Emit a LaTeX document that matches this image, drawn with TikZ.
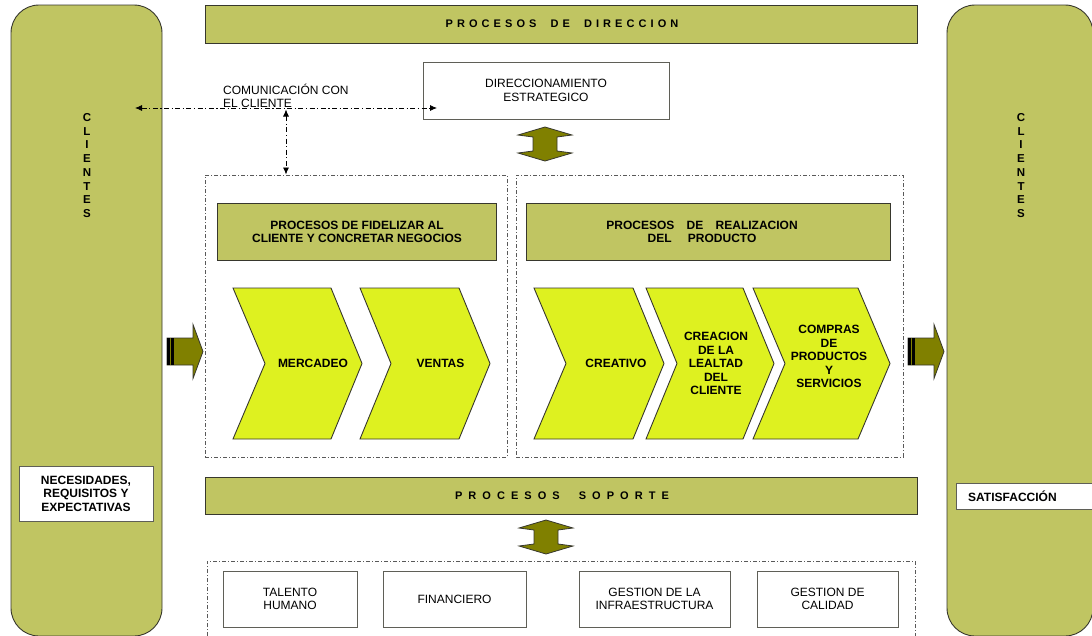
\documentclass[tikz,border=0pt]{standalone}
\usepackage{fontspec}
\setmainfont{Liberation Sans}
\newfontfamily\hdA[LetterSpace=37]{Liberation Sans}
\newfontfamily\hdB[LetterSpace=55]{Liberation Sans}
\usetikzlibrary{arrows.meta}
\definecolor{oliveL}{RGB}{192,197,98}
\definecolor{oliveD}{RGB}{128,128,0}
\definecolor{chev}{RGB}{222,241,32}
\definecolor{edge}{RGB}{55,55,45}
\tikzset{
  txt/.style={inner sep=0pt, align=center, font=\fontsize{12}{13.5}\selectfont},
  btxt/.style={inner sep=0pt, align=center, font=\bfseries\fontsize{12}{13.5}\selectfont},
  clibox/.style={draw=edge, line width=0.9pt, fill=oliveL, rounded corners=28pt, inner sep=0pt},
  bar/.style={draw=edge, line width=0.9pt, fill=oliveL, inner sep=0pt},
  wbox/.style={draw=edge!80, line width=0.9pt, fill=white, inner sep=0pt},
  cont/.style={draw=black!65, line width=0.8pt, dash pattern=on 4pt off 2pt on 1pt off 2pt, inner sep=0pt},
  comm/.style={draw=black, line width=0.8pt, dash pattern=on 5pt off 2.5pt on 1.2pt off 2.5pt, {Latex[length=7pt,width=6pt]}-{Latex[length=7pt,width=6pt]}},
  chevron/.style={draw=edge, line width=0.9pt, fill=chev},
  darrow/.style={draw=edge, line width=0.8pt, fill=oliveD},
  dbl/.pic={\draw[darrow] (0,0)--(27,8)--(12,10)--(12,24)--(27,26)--(0,34)--(-27,26)--(-12,24)--(-12,10)--(-27,8)--cycle;},
  barrow/.pic={\draw[darrow] (0,-13.5)--(26,-13.5)--(26,-27)--(36,0)--(26,27)--(26,13.5)--(0,13.5)--cycle;
               \fill[black] (0,-13.5) rectangle (2.8,13.5);
               \fill[black] (4.2,-13.5) rectangle (6.5,13.5);}
}
\begin{document}
\begin{tikzpicture}[x=1pt,y=-1pt]
\useasboundingbox (0,0) rectangle (1092,635);
% side client columns
\node[clibox, minimum width=151pt, minimum height=631pt] (cliL) at (86.5,320.5) {};
\node[clibox, minimum width=146pt, minimum height=631pt] (cliR) at (1020,320.5) {};
\node[btxt, font=\bfseries\fontsize{11.5}{13.7}\selectfont] (cliLt) at (87,165.5) {C\\L\\I\\E\\N\\T\\E\\S};
\node[btxt, font=\bfseries\fontsize{11.5}{13.7}\selectfont] (cliRt) at (1021,165.5) {C\\L\\I\\E\\N\\T\\E\\S};
\node[wbox, minimum width=134pt, minimum height=55pt] (nec) at (86,493.5) {};
\node[btxt] (nect) at (86,493.5) {NECESIDADES,\\REQUISITOS Y\\EXPECTATIVAS};
\node[wbox, minimum width=137pt, minimum height=26pt] (sat) at (1024.5,496) {};
\node[btxt, anchor=west] (satt) at (968,496) {SATISFACCIÓN};
% direccion
\node[bar, minimum width=712pt, minimum height=38pt] (dirbar) at (561,24) {};
\node[inner sep=0pt, font=\hdA\bfseries\fontsize{11}{13}\selectfont] (dirbart) at (562,24) {PROCESOS\hspace{7pt} DE\hspace{7pt} DIRECCION};
\node[wbox, minimum width=246pt, minimum height=57pt] (dir) at (546,90.5) {};
\node[txt] (dirt) at (546,90.5) {DIRECCIONAMIENTO\\ESTRATEGICO};
\pic at (545,127) {dbl};
% communication
\coordinate (cL) at (135,108);
\coordinate (cR) at (437,108);
\coordinate (cT) at (286,109.5);
\coordinate (cB) at (286,174.5);
\draw[comm] (cL) -- (cR);
\draw[comm] (cT) -- (cB);
\node[txt, align=left, anchor=west] (comt) at (223,96) {COMUNICACIÓN CON\\EL CLIENTE};
% containers
\node[cont, minimum width=302pt, minimum height=282pt] (contL) at (356,316) {};
\node[cont, minimum width=387pt, minimum height=282pt] (contR) at (709.5,316) {};
\node[bar, minimum width=279pt, minimum height=57pt] (fid) at (356.5,231.5) {};
\node[btxt] (fidt) at (357,232) {PROCESOS DE FIDELIZAR AL\\CLIENTE Y CONCRETAR NEGOCIOS};
\node[bar, minimum width=364pt, minimum height=57pt] (real) at (708,231.5) {};
\node[btxt] (realt) at (702,232) {PROCESOS\hspace{9pt} DE\hspace{9pt} REALIZACION\\DEL\hspace{13pt} PRODUCTO};
% chevrons
\draw[chevron] (233,288)--(331,288)--(362,363.5)--(331,439)--(233,439)--(265,363.5)--cycle;
\node[btxt] (merc) at (313,363.5) {MERCADEO};
\draw[chevron] (360,288)--(459,288)--(490,363.5)--(459,439)--(360,439)--(391,363.5)--cycle;
\node[btxt] (vent) at (440.5,363.5) {VENTAS};
\draw[chevron] (534,288)--(633,288)--(664,363.5)--(633,439)--(534,439)--(566,363.5)--cycle;
\node[btxt] (crea) at (616,363.5) {CREATIVO};
\draw[chevron] (646,288)--(743,288)--(774,363.5)--(743,439)--(646,439)--(677,363.5)--cycle;
\node[btxt] (leal) at (716,363.5) {CREACION\\DE LA\\LEALTAD\\DEL\\CLIENTE};
\draw[chevron] (753,288)--(858,288)--(890,363.5)--(858,439)--(753,439)--(785,363.5)--cycle;
\node[btxt] (comp) at (829,356.5) {COMPRAS\\DE\\PRODUCTOS\\Y\\SERVICIOS};
% side arrows
\pic at (167,351.5) {barrow};
\pic at (908,351.5) {barrow};
% soporte
\node[bar, minimum width=712pt, minimum height=37pt] (sopbar) at (561,495.5) {};
\node[inner sep=0pt, font=\hdB\bfseries\fontsize{11}{13}\selectfont] (sopt) at (562,495.5) {PROCESOS\hspace{10pt} SOPORTE};
\pic at (546,520) {dbl};
\draw[cont] (207,645) -- (207,561) -- (915,561) -- (915,645);
\node[wbox, minimum width=134pt, minimum height=56pt] (tal) at (290,599) {};
\node[txt] (talt) at (290,599) {TALENTO\\HUMANO};
\node[wbox, minimum width=143pt, minimum height=56pt] (fin) at (454.5,599) {};
\node[txt] (fint) at (454.5,599) {FINANCIERO};
\node[wbox, minimum width=151pt, minimum height=56pt] (inf) at (654.5,599) {};
\node[txt] (inft) at (654.5,599) {GESTION DE LA\\INFRAESTRUCTURA};
\node[wbox, minimum width=141pt, minimum height=56pt] (cal) at (827.5,599) {};
\node[txt] (calt) at (827.5,599) {GESTION DE\\CALIDAD};
\end{tikzpicture}
\end{document}
